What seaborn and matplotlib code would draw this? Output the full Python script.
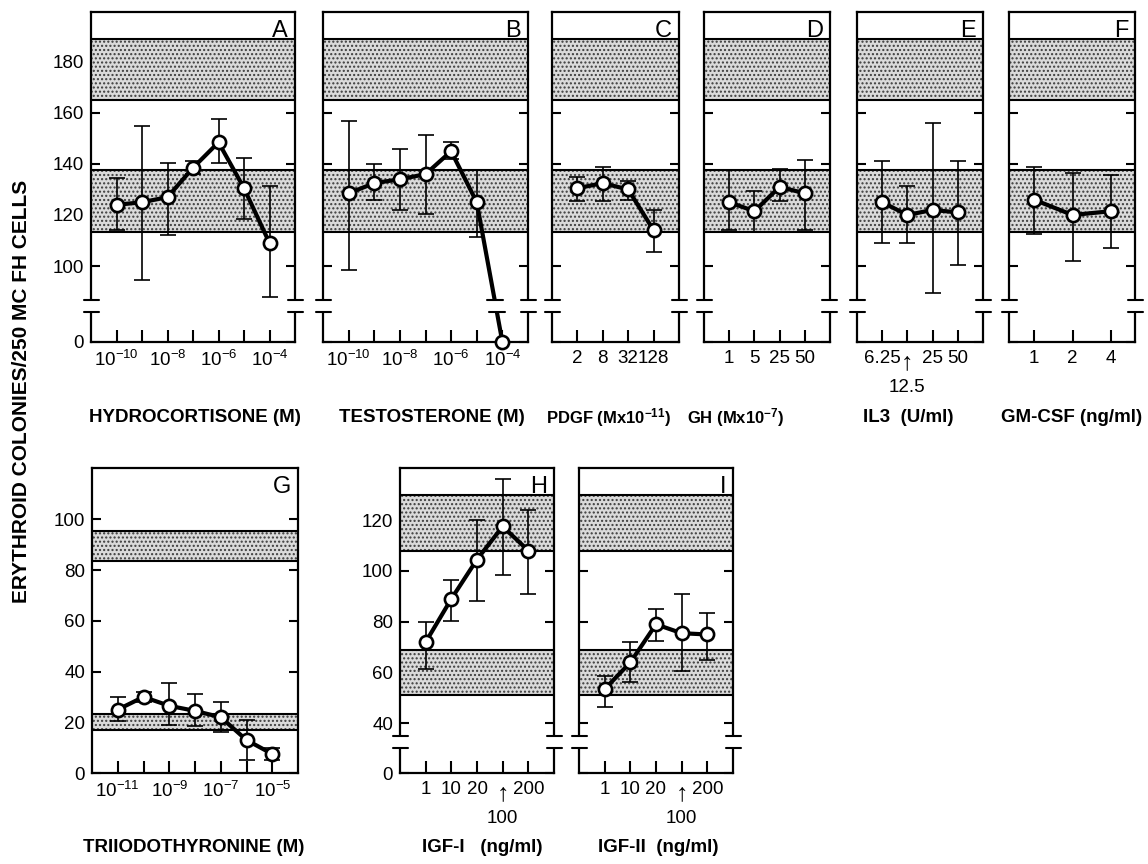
import numpy as np
import pandas as pd
import matplotlib
matplotlib.use("Agg")
import matplotlib.pyplot as plt
import matplotlib.transforms as mtransforms
from matplotlib.patches import Rectangle
from matplotlib.lines import Line2D
import seaborn as sns

# ------------------------------------------------------------------ data
y_label = "ERYTHROID COLONIES/250 MC FH CELLS"

hc_conc = [1e-10, 1e-9, 1e-8, 1e-7, 1e-6, 1e-5, 1e-4]
hc_mean = [124, 125, 127, 138.5, 148.5, 130.5, 109]
hc_lo = [114, 94.5, 112, 136, 140.5, 118.5, 88]
hc_hi = [134.5, 155, 140.5, 141, 157.5, 142.5, 131.5]

te_conc = [1e-10, 1e-9, 1e-8, 1e-7, 1e-6, 1e-5, 1e-4]
te_mean = [128.5, 132.5, 134, 136, 145, 125, 0]
te_lo = [98.5, 126, 122, 120.5, 142, 111.5, np.nan]
te_hi = [157, 140, 146, 151.5, 148.5, 137.5, np.nan]

pdgf_ticks = ["2", "8", "32", "128"]
pdgf_mean = [130.5, 132.5, 130, 114]
pdgf_lo = [125.5, 125.5, 126, 105.5]
pdgf_hi = [135, 139, 133.5, 122]

gh_ticks = ["1", "5", "25", "50"]
gh_mean = [125, 121.5, 131, 128.5]
gh_lo = [114, 113.5, 125.5, 114]
gh_hi = [137.5, 129.5, 138, 141.5]

il3_ticks = ["6.25", "\u2191", "25", "50"]
il3_sub = ["", "12.5", "", ""]
il3_mean = [125, 120, 122, 121]
il3_lo = [109, 109, 89.5, 100.5]
il3_hi = [141, 131.5, 156, 141]

gm_ticks = ["1", "2", "4"]
gm_mean = [126, 120, 121.5]
gm_lo = [112.5, 102, 107]
gm_hi = [139, 136.5, 135.5]

t3_conc = [1e-11, 1e-10, 1e-9, 1e-8, 1e-7, 1e-6, 1e-5]
t3_mean = [25, 30, 26.5, 24.5, 22, 13, 7.5]
t3_lo = [20.5, 28, 19, 18.5, 16, 5, 5]
t3_hi = [30, 32, 35.5, 31, 28, 21, 10]

igf_ticks = ["1", "10", "20", "\u2191", "200"]
igf_sub = ["", "", "", "100", ""]
igf1_mean = [72, 89, 104.5, 117.5, 108]
igf1_lo = [61.5, 80.5, 88, 98.5, 91]
igf1_hi = [80, 96.5, 120, 136, 124]

igf2_mean = [53.5, 64, 79, 75.5, 75]
igf2_lo = [46.5, 56.5, 72.5, 60.5, 65]
igf2_hi = [58.5, 72, 85, 91, 83.5]

top_bands = [(113.5, 137.5), (165, 189)]
t3_bands = [(17, 23.3), (83.5, 95.5)]
igf_bands = [(51, 69), (108, 130)]

top_yticks = [0, 100, 120, 140, 160, 180]
t3_yticks = [0, 20, 40, 60, 80, 100]
igf_yticks = [0, 40, 60, 80, 100, 120]

x_titles = ["HYDROCORTISONE (M)", "TESTOSTERONE (M)",
            r"PDGF (Mx10$^{\mathbf{-11}}$)", r"GH (Mx10$^{\mathbf{-7}}$)",
            "IL3  (U/ml)", "GM-CSF (ng/ml)",
            "TRIIODOTHYRONINE (M)", "IGF-I   (ng/ml)", "IGF-II  (ng/ml)"]


def pow_labels(conc):
    out = []
    for i, c in enumerate(conc):
        if i % 2 == 0:
            out.append(r"$\mathregular{10^{%d}}$" % int(round(np.log10(c))))
        else:
            out.append("")
    return out


# ------------------------------------------------------------------ style
sns.set_theme(style="ticks")
plt.rcParams.update({
    "font.family": ["Liberation Sans", "DejaVu Sans"],
    "mathtext.fontset": "custom",
    "mathtext.rm": "Liberation Sans",
    "mathtext.it": "Liberation Sans:italic",
    "mathtext.bf": "Liberation Sans:bold",
    "hatch.linewidth": 1.0,
    "axes.linewidth": 1.6,
    "axes.edgecolor": "black",
    "xtick.color": "black",
    "ytick.color": "black",
})

W, H = 1148, 864
fig = plt.figure(figsize=(W / 100, H / 100), dpi=100)
fig.patch.set_facecolor("white")


def make_break(lo_t, brk):
    k = (brk - lo_t) / brk

    def fwd(v):
        v = np.asarray(v, float)
        return np.where(v >= brk, v, lo_t + v * k)

    def inv(t):
        t = np.asarray(t, float)
        return np.where(t >= brk, t, (t - lo_t) / k)
    return fwd, inv


TOP = (12, 342)
BOT = (468, 773)
panels = [
    dict(letter="A", rect=(91, 295) + TOP, mean=hc_mean, lo=hc_lo, hi=hc_hi,
         ticks=pow_labels(hc_conc), sub=None, xlim=(-1, 7), kind="top", ylab=True,
         title=x_titles[0], tx=195, ty=418, tfs=13.5),
    dict(letter="B", rect=(323, 528) + TOP, mean=te_mean, lo=te_lo, hi=te_hi,
         ticks=pow_labels(te_conc), sub=None, xlim=(-1, 7), kind="top", ylab=False,
         title=x_titles[1], tx=432, ty=418, tfs=13.5),
    dict(letter="C", rect=(552, 679) + TOP, mean=pdgf_mean, lo=pdgf_lo, hi=pdgf_hi,
         ticks=pdgf_ticks, sub=None, xlim=(-1, 4), kind="top", ylab=False,
         title=x_titles[2], tx=609, ty=418, tfs=12),
    dict(letter="D", rect=(704, 830) + TOP, mean=gh_mean, lo=gh_lo, hi=gh_hi,
         ticks=gh_ticks, sub=None, xlim=(-1, 4), kind="top", ylab=False,
         title=x_titles[3], tx=736, ty=418, tfs=12),
    dict(letter="E", rect=(857, 983) + TOP, mean=il3_mean, lo=il3_lo, hi=il3_hi,
         ticks=il3_ticks, sub=il3_sub, xlim=(-1, 4), kind="top", ylab=False,
         title=x_titles[4], tx=908, ty=418, tfs=13.5),
    dict(letter="F", rect=(1009, 1135) + TOP, mean=gm_mean, lo=gm_lo, hi=gm_hi,
         ticks=gm_ticks, sub=None, xlim=(-0.65, 2.62), kind="top", ylab=False,
         title=x_titles[5], tx=1072, ty=418, tfs=13.5),
    dict(letter="G", rect=(92, 298) + BOT, mean=t3_mean, lo=t3_lo, hi=t3_hi,
         ticks=pow_labels(t3_conc), sub=None, xlim=(-1, 7), kind="t3", ylab=True,
         title=x_titles[6], tx=194, ty=847, tfs=13.5),
    dict(letter="H", rect=(400, 554) + BOT, mean=igf1_mean, lo=igf1_lo, hi=igf1_hi,
         ticks=igf_ticks, sub=igf_sub, xlim=(-1, 5), kind="igf", ylab=True,
         title=x_titles[7], tx=482, ty=847, tfs=13.5),
    dict(letter="I", rect=(579, 733) + BOT, mean=igf2_mean, lo=igf2_lo, hi=igf2_hi,
         ticks=igf_ticks, sub=igf_sub, xlim=(-1, 5), kind="igf", ylab=False,
         title=x_titles[8], tx=658, ty=847, tfs=13.5),
]

kinds = {
    "top": dict(bands=top_bands, yticks=top_yticks, brk=(70.2, 86.7), ytop=199.6),
    "t3": dict(bands=t3_bands, yticks=t3_yticks, brk=None, ytop=120.3),
    "igf": dict(bands=igf_bands, yticks=igf_yticks, brk=(20.5, 35.0), ytop=140.5),
}

for p in panels:
    x0, x1, y0, y1 = p["rect"]
    wpx, hpx = x1 - x0, y1 - y0
    ax = fig.add_axes([x0 / W, 1 - y1 / H, wpx / W, hpx / H])
    ax.set_facecolor("white")
    kd = kinds[p["kind"]]

    fwd = inv = None
    if kd["brk"] is not None:
        fwd, inv = make_break(*kd["brk"])
        ax.set_yscale("function", functions=(fwd, inv))
    ax.set_ylim(0, kd["ytop"])
    ax.set_xlim(*p["xlim"])

    # stippled reference bands
    for lo_b, hi_b in kd["bands"]:
        ax.axhspan(lo_b, hi_b, facecolor="#dadada", edgecolor="#3c3c3c",
                   hatch="....", linewidth=0, zorder=1)
        ax.axhline(lo_b, color="black", lw=1.5, zorder=1.5)
        ax.axhline(hi_b, color="black", lw=1.5, zorder=1.5)

    n = len(p["mean"])
    df = pd.DataFrame({"pos": np.arange(n), "mean": p["mean"],
                       "lo": p["lo"], "hi": p["hi"]})
    ok = df["lo"].notna()
    ax.errorbar(df.loc[ok, "pos"], df.loc[ok, "mean"],
                yerr=[df.loc[ok, "mean"] - df.loc[ok, "lo"],
                      df.loc[ok, "hi"] - df.loc[ok, "mean"]],
                fmt="none", ecolor="black", elinewidth=1.2, capsize=6,
                capthick=1.2, zorder=3)
    sns.lineplot(data=df, x="pos", y="mean", ax=ax, color="black", lw=3.0,
                 marker="o", markersize=9.5, markerfacecolor="white",
                 markeredgecolor="black", markeredgewidth=1.9, zorder=4,
                 clip_on=False)
    ax.set_xlabel("")
    ax.set_ylabel("")

    # ticks
    ax.set_xticks(np.arange(n))
    ax.set_xticklabels(p["ticks"])
    ax.set_yticks(kd["yticks"])
    ax.yaxis.set_minor_locator(matplotlib.ticker.NullLocator())
    if p["ylab"]:
        ax.set_yticklabels([str(t) for t in kd["yticks"]])
    else:
        ax.set_yticklabels([])
    ax.tick_params(axis="y", direction="in", length=6.5, width=1.5,
                   left=True, right=True, labelsize=13.5, pad=5)
    ax.tick_params(axis="x", direction="in", length=8.5, width=1.5,
                   top=False, labelsize=13.5, pad=6)
    for lab in ax.get_xticklabels():
        if lab.get_text() == "\u2191":
            lab.set_fontsize(18)
            lab.set_fontweight("bold")
    for s in ax.spines.values():
        s.set_visible(True)
        s.set_linewidth(1.6)
        s.set_color("black")

    blend = mtransforms.blended_transform_factory(ax.transData, ax.transAxes)

    # second-line tick labels (below an arrow)
    if p["sub"] is not None:
        for i, s in enumerate(p["sub"]):
            if s:
                ax.annotate(s, xy=(i, 0), xycoords=blend, xytext=(0, -32.5),
                            textcoords="offset points", ha="center",
                            va="center", fontsize=13.5, color="black")

    # axis break
    if fwd is not None:
        lo_t, brk = kd["brk"]
        ttop = float(fwd(kd["ytop"]))
        f_hi = (brk - lo_t) / (ttop - lo_t)
        f_lo = f_hi - 12.0 / hpx
        ext = 3.0 / wpx
        ax.add_patch(Rectangle((-ext, f_lo), 1 + 2 * ext, f_hi - f_lo,
                               transform=ax.transAxes, facecolor="white",
                               edgecolor="none", zorder=5, clip_on=False))
        half = 7.5 / wpx
        for xs in (0, 1):
            for f in (f_lo, f_hi):
                ax.add_line(Line2D([xs - half, xs + half], [f, f],
                                   transform=ax.transAxes, color="black",
                                   lw=1.5, zorder=6, clip_on=False))
        # break marks where the data line crosses the gap
        t_hi = brk
        t_lo = lo_t + f_lo * (ttop - lo_t)
        tm = fwd(np.asarray(p["mean"], float))
        upx = wpx / (p["xlim"][1] - p["xlim"][0])
        for i in range(n - 1):
            a, b = tm[i], tm[i + 1]
            if a > t_hi and b < t_lo:
                for tt, f in ((t_hi, f_hi), (t_lo, f_lo)):
                    xc = i + (a - tt) / (a - b)
                    ax.add_line(Line2D([xc - 8 / upx, xc + 8 / upx], [f, f],
                                       transform=blend, color="black", lw=1.5,
                                       zorder=6, clip_on=False))

    # panel letter
    ax.text(1 - 7.0 / wpx, 1 - 8.0 / hpx, p["letter"], transform=ax.transAxes,
            ha="right", va="top", fontsize=17, color="black")

    # x title
    fig.text(p["tx"] / W, 1 - p["ty"] / H, p["title"], ha="center",
             va="center", fontsize=p["tfs"], fontweight="bold", color="black")

fig.text(22 / W, 1 - 391 / H, y_label, rotation=90, ha="center", va="center",
         fontsize=15, fontweight="bold", color="black")

fig.savefig("out.png", dpi=100, facecolor="white")
